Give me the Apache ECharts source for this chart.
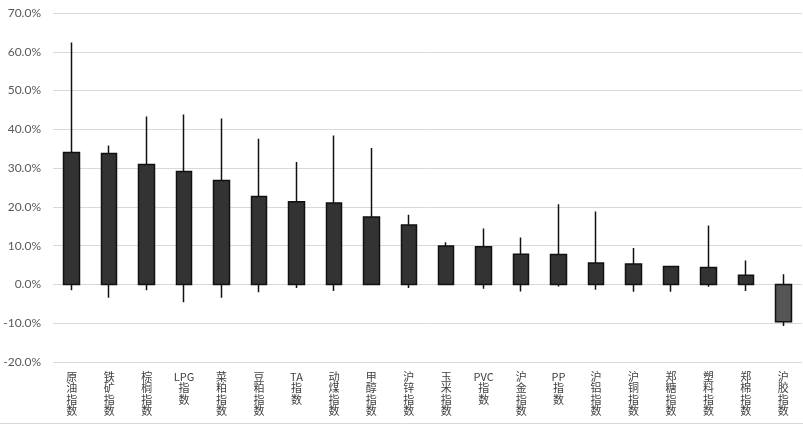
<!DOCTYPE html>
<html>
<head>
<meta charset="utf-8">
<script src="https://cdn.jsdelivr.net/npm/echarts@6/dist/echarts.min.js"></script>
<style>
  * { margin: 0; padding: 0; }
  body { background: #fff; }
</style>
</head>
<body>
<div id="main" style="width: 803px;height: 426px;"></div>
<script>
  // 品种
  var categories = ['原油指数', '铁矿指数', '棕榈指数', 'LPG指数', '菜粕指数', '豆粕指数', 'TA指数',
    '动煤指数', '甲醇指数', '沪锌指数', '玉米指数', 'PVC指数', '沪金指数', 'PP指数', '沪铝指数',
    '沪铜指数', '郑糖指数', '塑料指数', '郑棉指数', '沪胶指数'];
  // 涨跌幅 (%)
  var closeVals = [34.0, 33.8, 30.9, 29.1, 26.8, 22.7, 21.3, 21.0, 17.4, 15.3, 9.9, 9.7, 7.8, 7.7, 5.5, 5.3, 4.6, 4.4, 2.4, -9.6];
  var highVals = [62.4, 35.8, 43.3, 43.8, 42.8, 37.6, 31.6, 38.4, 35.2, 18.0, 10.9, 14.4, 12.1, 20.7, 18.8, 9.4, 4.6, 15.2, 6.2, 2.6];
  var lowVals = [-1.5, -3.4, -1.5, -4.6, -3.4, -2.0, -0.9, -1.7, 0, -0.9, 0, -1.1, -1.8, -0.5, -1.4, -1.9, -1.9, -0.6, -1.7, -10.7];
  var yTicks = { min: -20, max: 70, step: 10 };

  var candleData = categories.map(function (c, i) {
    return [0, closeVals[i], lowVals[i], highVals[i]];
  });

  // 竖排标签: 汉字一个一行, 字母放一起
  function verticalLabel(s) {
    var parts = s.match(/[A-Za-z]+|./g);
    return parts.join('\n');
  }

  var chart = echarts.init(document.getElementById('main'));
  chart.setOption({
    animation: false,
    grid: { left: 53, right: 1, top: 13, bottom: 64 },
    xAxis: {
      type: 'category',
      data: categories,
      axisLine: { show: false },
      axisTick: { show: false },
      axisLabel: {
        interval: 0,
        margin: 9,
        fontSize: 11,
        lineHeight: 11.5,
        color: '#404040',
        fontFamily: 'Noto Sans CJK SC',
        formatter: verticalLabel
      }
    },
    yAxis: {
      type: 'value',
      min: yTicks.min,
      max: yTicks.max,
      interval: yTicks.step,
      axisLine: { show: false },
      axisTick: { show: false },
      splitLine: { lineStyle: { color: '#d9d9d9', width: 1 } },
      axisLabel: {
        margin: 12,
        fontSize: 12,
        color: '#595959',
        fontFamily: 'Lato',
        formatter: function (v) { return v.toFixed(1) + '%'; }
      }
    },
    graphic: [{
      type: 'line',
      shape: { x1: 0, y1: 423.5, x2: 803, y2: 423.5 },
      style: { stroke: '#d9d9d9', lineWidth: 1 }
    }],
    series: [{
      type: 'candlestick',
      barWidth: 16,
      data: candleData,
      itemStyle: {
        color: '#333333',
        color0: '#555555',
        borderColor: '#111111',
        borderColor0: '#111111',
        borderWidth: 1.5
      }
    }]
  });
</script>
</body>
</html>
